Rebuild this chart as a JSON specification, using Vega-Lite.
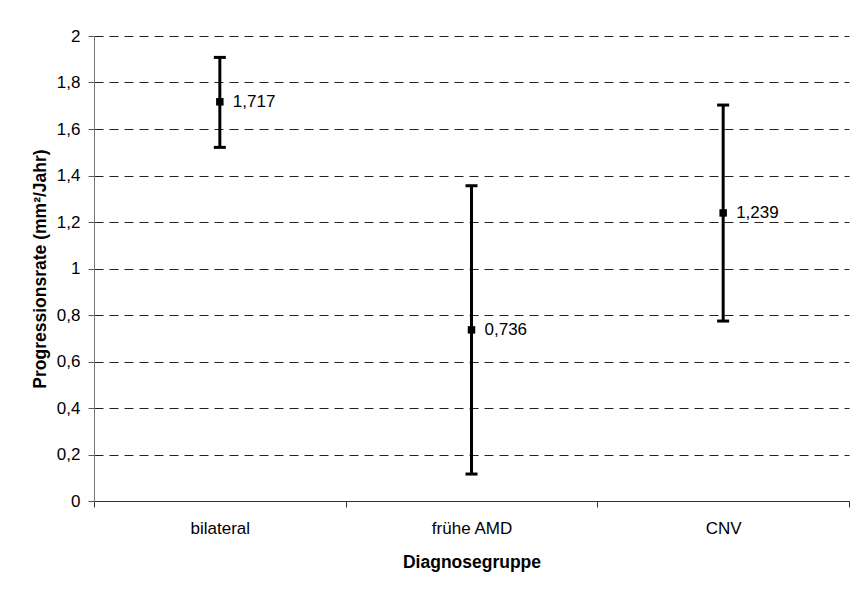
{
  "$schema": "https://vega.github.io/schema/vega-lite/v6.json",
  "autosize": "none",
  "width": 755,
  "height": 465,
  "padding": {"left": 94, "top": 36, "right": 10, "bottom": 88},
  "background": "white",
  "config": {
    "locale": {"number": {"decimal": ",", "thousands": ".", "grouping": [3], "currency": ["", " €"]}},
    "view": {"stroke": null},
    "font": "Liberation Sans"
  },
  "data": {
    "values": [
      {"gruppe": "bilateral", "mean": 1.717, "lo": 1.521, "hi": 1.908},
      {"gruppe": "frühe AMD", "mean": 0.736, "lo": 0.116, "hi": 1.356},
      {"gruppe": "CNV", "mean": 1.239, "lo": 0.774, "hi": 1.703}
    ]
  },
  "encoding": {
    "x": {
      "field": "gruppe", "type": "nominal", "sort": null,
      "scale": {"paddingInner": 0, "paddingOuter": 0},
      "axis": {
        "title": "Diagnosegruppe", "titleFontWeight": "bold", "titleFontSize": 17.5, "titleColor": "#000",
        "titlePadding": 17,
        "labelAngle": 0, "labelFontSize": 17, "labelColor": "#000", "labelPadding": 13,
        "tickBand": "extent", "tickSize": 6, "tickColor": "#333", "domainColor": "#333",
        "grid": false
      }
    }
  },
  "layer": [
    {
      "mark": {"type": "rule", "strokeWidth": 3, "color": "#000"},
      "encoding": {
        "y": {
          "field": "lo", "type": "quantitative",
          "scale": {"domain": [0, 2], "nice": false},
          "axis": {
            "title": "Progressionsrate (mm²/Jahr)", "titleFontWeight": "bold", "titleFontSize": 17.5, "titleColor": "#000",
            "titlePadding": 7,
            "values": [0, 0.2, 0.4, 0.6, 0.8, 1, 1.2, 1.4, 1.6, 1.8, 2],
            "format": ".1~f",
            "labelFontSize": 17, "labelColor": "#000", "labelPadding": 8,
            "tickSize": 6, "tickColor": "#555", "domainColor": "#777",
            "grid": true, "gridColor": "#222", "gridDash": [9, 6], "gridWidth": 1
          }
        },
        "y2": {"field": "hi"}
      }
    },
    {
      "mark": {"type": "tick", "size": 12, "thickness": 3, "color": "#000", "opacity": 1},
      "encoding": {"y": {"field": "lo", "type": "quantitative"}}
    },
    {
      "mark": {"type": "tick", "size": 12, "thickness": 3, "color": "#000", "opacity": 1},
      "encoding": {"y": {"field": "hi", "type": "quantitative"}}
    },
    {
      "mark": {"type": "point", "shape": "square", "filled": true, "size": 56, "color": "#000", "opacity": 1},
      "encoding": {"y": {"field": "mean", "type": "quantitative"}}
    },
    {
      "mark": {"type": "text", "align": "left", "baseline": "middle", "dx": 13, "fontSize": 17, "color": "#000"},
      "encoding": {
        "y": {"field": "mean", "type": "quantitative"},
        "text": {"field": "mean", "type": "quantitative", "format": ".3f"}
      }
    }
  ]
}
